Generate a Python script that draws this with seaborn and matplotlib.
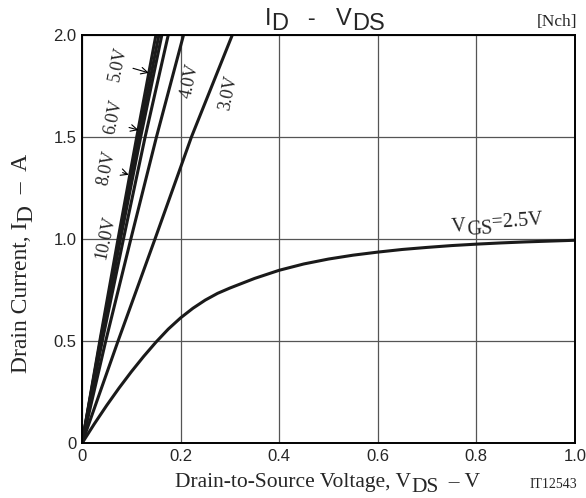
import matplotlib
matplotlib.use("Agg")
import matplotlib.pyplot as plt
import matplotlib.transforms as mtransforms
import numpy as np
import pandas as pd
import seaborn as sns

# Curves (V_DS in V, I_D in A)
id_steep = [0.0, 0.5, 1.0, 1.5, 2.0]
vds_10v = [0.0, 0.036, 0.073, 0.111, 0.150]
vds_8v = [0.0, 0.037, 0.076, 0.115, 0.156]
vds_6v = [0.0, 0.038, 0.078, 0.119, 0.162]
vds_5v = [0.0, 0.041, 0.084, 0.128, 0.175]
vds_4v = [0.0, 0.048, 0.099, 0.151, 0.206]
vds_3v = [0.0, 0.073, 0.148, 0.222, 0.305]

vds_25v = [0.0, 0.025, 0.05, 0.075, 0.1, 0.125, 0.15, 0.175, 0.2, 0.225, 0.25,
           0.275, 0.3, 0.35, 0.4, 0.45, 0.5, 0.55, 0.6, 0.65, 0.7, 0.75, 0.8,
           0.85, 0.9, 0.95, 1.0]
id_25v = [0.0, 0.095, 0.185, 0.270, 0.350, 0.425, 0.495, 0.559, 0.614, 0.661,
          0.701, 0.734, 0.760, 0.807, 0.847, 0.878, 0.902, 0.921, 0.936, 0.949,
          0.959, 0.968, 0.975, 0.981, 0.986, 0.990, 0.994]

x_ticks = [0, 0.2, 0.4, 0.6, 0.8, 1.0]
x_labels = ["0", "0.2", "0.4", "0.6", "0.8", "1.0"]
y_ticks = [0, 0.5, 1.0, 1.5, 2.0]
y_labels = ["0", "0.5", "1.0", "1.5", "2.0"]

curves = {
    "10.0V": (vds_10v, id_steep),
    "8.0V": (vds_8v, id_steep),
    "6.0V": (vds_6v, id_steep),
    "5.0V": (vds_5v, id_steep),
    "4.0V": (vds_4v, id_steep),
    "3.0V": (vds_3v, id_steep),
    "2.5V": (vds_25v, id_25v),
}

W, H = 586, 498

sns.set_theme(style="white")
plt.rcParams["font.family"] = ["Liberation Serif", "DejaVu Serif"]

fig = plt.figure(figsize=(W / 100, H / 100), dpi=100)
ax = fig.add_axes([0.140, 0.110, 0.841, 0.820])

for name, (xs, ys) in curves.items():
    df = pd.DataFrame({"vds": xs, "id": ys})
    sns.lineplot(data=df, x="vds", y="id", ax=ax, color="#1a1a1a", lw=2.2,
                 sort=False, estimator=None)

ax.set_xlim(0, 1.0)
ax.set_ylim(0, 2.0)
ax.set_xticks(x_ticks)
ax.set_xticklabels(x_labels, family="Liberation Sans", fontsize=12)
ax.set_yticks(y_ticks)
ax.set_yticklabels(y_labels, family="Liberation Sans", fontsize=12)
ax.tick_params(length=0, pad=4)
ax.set_xlabel("")
ax.set_ylabel("")
ax.grid(True, color="#555555", lw=0.9)
for s in ax.spines.values():
    s.set_color("black")
    s.set_linewidth(1.4)

renderer = fig.canvas.get_renderer()
ident = mtransforms.IdentityTransform()


def pieces(x, y, parts, size, family="Liberation Serif", rot=0.0):
    """Draw text run from pixel (x, y from top); parts = [(text, drop_px)]."""
    a = np.deg2rad(rot)
    d = np.array([np.cos(a), np.sin(a)])
    n = np.array([np.sin(a), -np.cos(a)])
    pos = np.array([x, H - y], dtype=float)
    for s, drop in parts:
        p = pos + n * drop
        fig.text(p[0], p[1], s, transform=ident, fontsize=size, family=family,
                 rotation=rot, rotation_mode="anchor", ha="left", va="baseline")
        tmp = fig.text(0, 0, s, transform=ident, fontsize=size, family=family)
        w = tmp.get_window_extent(renderer).width
        tmp.remove()
        pos = pos + d * w


# title and labels with full-size subscripts like the datasheet
pieces(265, 25, [("I", 0), ("D", 5), ("   -   ", 0), ("V", 0), ("DS", 5)],
       17, family="Liberation Sans")
fig.text(577, H - 26, "[Nch]", transform=ident, fontsize=12.5,
         ha="right", va="baseline")
pieces(175, 487, [("Drain-to-Source Voltage, V", 0), ("DS", 5),
                  ("  – V", 0)], 15.5)
pieces(27, 373, [("Drain Current, I", 0), ("D", 5), ("  –  A", 0)], 17, rot=90)
fig.text(553, H - 488, "IT12543", transform=ident, fontsize=10,
         ha="center", va="baseline")

# curve labels
lbl = dict(fontsize=13, ha="center", va="center", rotation=78)
fig.text(106, H - 237, "10.0V", transform=ident, **lbl)
fig.text(107, H - 168, "8.0V", transform=ident, **lbl)
fig.text(114, H - 117, "6.0V", transform=ident, **lbl)
fig.text(118, H - 64, "5.0V", transform=ident, **lbl)
fig.text(190, H - 81, "4.0V", transform=ident, **lbl)
fig.text(228, H - 93, "3.0V", transform=ident, **lbl)
pieces(452, 232, [("V", 0), ("GS", 4), ("=2.5V", -1)], 14.5, rot=4)

arrow = dict(arrowstyle="->", color="black", lw=0.8)
ax.annotate("", xy=(0.141, 1.81), xytext=(0.098, 1.84), arrowprops=arrow)
ax.annotate("", xy=(0.120, 1.53), xytext=(0.090, 1.55), arrowprops=arrow)
ax.annotate("", xy=(0.100, 1.31), xytext=(0.077, 1.33), arrowprops=arrow)

fig.savefig("out.png", dpi=100)
